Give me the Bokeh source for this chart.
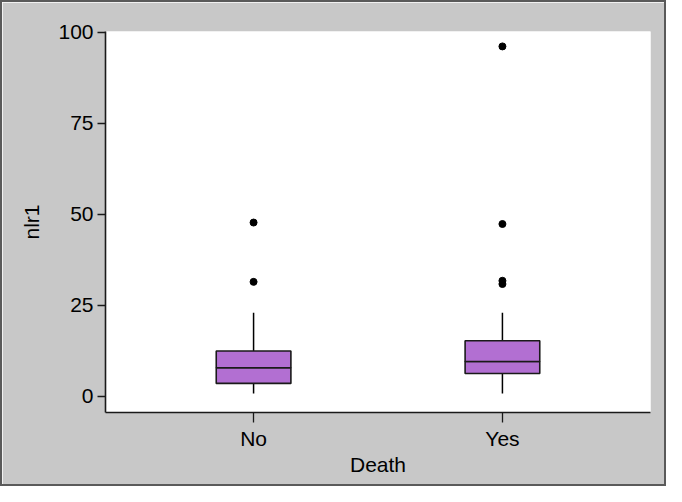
from bokeh.plotting import figure
from bokeh.models import FactorRange, Range1d, FixedTicker, ColumnDataSource
from bokeh.embed import file_html
from bokeh.resources import INLINE

# ---- data ----
categories = ["No", "Yes"]
whisker_low = [0.7, 0.7]
q1 = [3.5, 6.2]
median = [7.8, 9.5]
q3 = [12.4, 15.2]
whisker_high = [22.9, 22.9]
outlier_cat = ["No", "No", "Yes", "Yes", "Yes", "Yes"]
outlier_val = [47.7, 31.4, 96.1, 47.3, 31.7, 30.8]
y_ticks = [0, 25, 50, 75, 100]

FONT = "Liberation Sans"
BG = "#c8c8c8"
FILL = "#b26fd2"

p = figure(
    width=666, height=486,
    x_range=FactorRange(*categories, range_padding=0.095),
    y_range=Range1d(-4.5, 100.2),
    output_backend="svg", toolbar_location=None,
    min_border_left=103, min_border_right=18,
    min_border_top=29, min_border_bottom=76,
)
p.background_fill_color = "white"
p.border_fill_color = BG
p.outline_line_color = None
p.xgrid.grid_line_color = None
p.ygrid.grid_line_color = None
p.styles = {"border": "2px solid #5a5a5a", "box-sizing": "border-box"}

box = ColumnDataSource(dict(cat=categories, q1=q1, med=median, q3=q3,
                            lo=whisker_low, hi=whisker_high))

# whiskers
p.segment(x0="cat", y0="lo", x1="cat", y1="q1", source=box,
          line_color="black", line_width=1.5)
p.segment(x0="cat", y0="q3", x1="cat", y1="hi", source=box,
          line_color="black", line_width=1.5)
# boxes (lower and upper halves; the shared edge is the median line)
p.vbar(x="cat", bottom="q1", top="med", width=0.30, source=box,
       fill_color=FILL, line_color="#1a1a1a", line_width=1.6)
p.vbar(x="cat", bottom="med", top="q3", width=0.30, source=box,
       fill_color=FILL, line_color="#1a1a1a", line_width=1.6)
# outliers
p.scatter(x=outlier_cat, y=outlier_val, size=7, color="black")

for ax in (p.xaxis[0], p.yaxis[0]):
    ax.axis_line_color = "#1a1a1a"
    ax.axis_line_width = 1.6
    ax.major_tick_line_color = "#1a1a1a"
    ax.major_tick_line_width = 1.3
    ax.major_tick_in = 0
    ax.minor_tick_line_color = None
    ax.major_label_text_font = FONT
    ax.major_label_text_font_size = "21px"
    ax.major_label_text_color = "black"
    ax.axis_label_text_font = FONT
    ax.axis_label_text_font_size = "21px"
    ax.axis_label_text_font_style = "normal"
    ax.axis_label_text_color = "black"

p.yaxis.ticker = FixedTicker(ticks=y_ticks)
p.yaxis.major_tick_out = 8
p.yaxis.major_label_standoff = 4
p.yaxis.axis_label = "nlr1"
p.yaxis.axis_label_standoff = 12

p.xaxis.major_tick_out = 10
p.xaxis.major_label_standoff = 4
p.xaxis.axis_label = "Death"
p.xaxis.axis_label_standoff = 0

open("out.html", "w").write(file_html(p, INLINE))
